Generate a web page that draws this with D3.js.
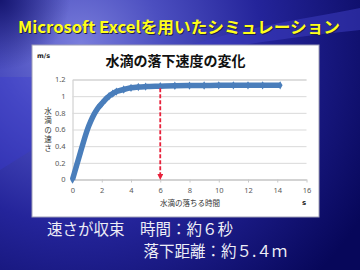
<!DOCTYPE html>
<html>
<head>
<meta charset="utf-8">
<script src="https://cdn.jsdelivr.net/npm/d3@7"></script>
<style>
  html, body { margin: 0; padding: 0; background: #0a0a5a; }
  svg { display: block; }
</style>
</head>
<body>
<div id="chart"></div>
<script>
// Data
var timeS = [0, 0.25, 0.5, 0.75, 1, 1.25, 1.5, 1.75, 2, 2.25, 2.5, 2.75, 3, 3.5, 4, 4.5, 5, 6, 7, 8, 9, 10, 11, 12, 13, 14.2];
var speedMs = [0, 0.15, 0.3, 0.45, 0.59, 0.7, 0.79, 0.86, 0.91, 0.96, 1.0, 1.03, 1.055, 1.08, 1.10, 1.11, 1.115, 1.12, 1.125, 1.127, 1.128, 1.13, 1.13, 1.13, 1.13, 1.13];
var xTicks = [0, 2, 4, 6, 8, 10, 12, 14, 16];
var yTicks = [0, 0.2, 0.4, 0.6, 0.8, 1, 1.2];
var markTime = 6;

var slideTitle = "Microsoft Excelを用いたシミュレーション";
var chartTitle = "水滴の落下速度の変化";
var yTitle = "水滴の速さ";
var xTitle = "水滴の落ちる時間";
var yUnit = "m/s";
var xUnit = "s";
var noteLine1 = "速さが収束　時間：約６秒";
var noteLine2 = "落下距離：約５.４ｍ";

var W = 360, H = 270;
var jp = "'Noto Sans CJK JP', 'Noto Sans', sans-serif";

var svg = d3.select("#chart").append("svg")
    .attr("width", W)
    .attr("height", H);

// background
var defs = svg.append("defs");
var bg = defs.append("radialGradient")
    .attr("id", "bg")
    .attr("gradientUnits", "userSpaceOnUse")
    .attr("cx", 80).attr("cy", 45).attr("r", 330);
bg.append("stop").attr("offset", 0).attr("stop-color", "#7a7edc");
bg.append("stop").attr("offset", 0.25).attr("stop-color", "#4c4fc0");
bg.append("stop").attr("offset", 0.55).attr("stop-color", "#24249a");
bg.append("stop").attr("offset", 1).attr("stop-color", "#07075a");

var corner = defs.append("radialGradient")
    .attr("id", "corner")
    .attr("gradientUnits", "userSpaceOnUse")
    .attr("cx", 0).attr("cy", 0).attr("r", 70);
corner.append("stop").attr("offset", 0).attr("stop-color", "#101068").attr("stop-opacity", 0.9);
corner.append("stop").attr("offset", 1).attr("stop-color", "#101068").attr("stop-opacity", 0);

svg.append("rect").attr("width", W).attr("height", H).attr("fill", "url(#bg)");
svg.append("rect").attr("width", W).attr("height", H).attr("fill", "url(#corner)");

// swoosh at the top right
svg.append("path")
    .attr("d", "M150,60 C220,30 300,20 360,8 L360,30 C300,36 230,46 150,60 Z")
    .attr("fill", "#3c3cc0")
    .attr("opacity", 0.55);
svg.append("path")
    .attr("d", "M0,77 L32,77 L32,150 L0,170 Z")
    .attr("fill", "#3a3ad0")
    .attr("opacity", 0.35);

// slide title
svg.append("text")
    .attr("x", 18).attr("y", 32.5)
    .attr("textLength", 322)
    .attr("lengthAdjust", "spacingAndGlyphs")
    .style("font-family", jp)
    .style("font-size", "16px")
    .style("font-weight", "bold")
    .attr("fill", "#20204a")
    .attr("transform", "translate(1,1)")
    .text(slideTitle);
svg.append("text")
    .attr("x", 18).attr("y", 32.5)
    .attr("textLength", 322)
    .attr("lengthAdjust", "spacingAndGlyphs")
    .style("font-family", jp)
    .style("font-size", "16px")
    .style("font-weight", "bold")
    .attr("fill", "#ffff1a")
    .text(slideTitle);

// chart panel
svg.append("rect")
    .attr("x", 32).attr("y", 45)
    .attr("width", 287).attr("height", 172)
    .attr("fill", "#ffffff")
    .attr("stroke", "#a0a0b8")
    .attr("stroke-width", 1);

var x = d3.scaleLinear().domain([0, 16]).range([72.5, 306.5]);
var y = d3.scaleLinear().domain([0, 1.2]).range([179.5, 79.5]);

// y grid and labels
var yAxis = svg.append("g")
    .attr("transform", "translate(" + x(0) + ",0)")
    .call(d3.axisLeft(y)
        .tickValues(yTicks)
        .tickSize(-(x(16) - x(0)))
        .tickPadding(7)
        .tickFormat(function(d) { return String(+d.toFixed(1)); }));
yAxis.select(".domain").attr("stroke", "#c8c8c8");
yAxis.selectAll(".tick line").attr("stroke", "#d9d9d9");
yAxis.selectAll(".tick text")
    .style("font-family", "'Noto Sans', sans-serif")
    .style("font-size", "7.5px")
    .attr("fill", "#595959");

// x axis
var xAxis = svg.append("g")
    .attr("transform", "translate(0," + y(0) + ")")
    .call(d3.axisBottom(x)
        .tickValues(xTicks)
        .tickSize(3)
        .tickSizeOuter(0)
        .tickPadding(5));
xAxis.select(".domain").attr("stroke", "#c8c8c8");
xAxis.selectAll(".tick line").attr("stroke", "#c8c8c8");
xAxis.selectAll(".tick text")
    .style("font-family", "'Noto Sans', sans-serif")
    .style("font-size", "7.5px")
    .attr("fill", "#595959");

// series
var pts = timeS.map(function(t, i) { return [t, speedMs[i]]; });
var line = d3.line()
    .x(function(d) { return x(d[0]); })
    .y(function(d) { return y(d[1]); })
    .curve(d3.curveMonotoneX);
svg.append("path")
    .datum(pts)
    .attr("d", line)
    .attr("fill", "none")
    .attr("stroke", "#4a7ebb")
    .attr("stroke-width", 5.5);
svg.append("g").selectAll("path")
    .data(pts)
    .enter().append("path")
    .attr("transform", function(d) { return "translate(" + x(d[0]) + "," + y(d[1]) + ")"; })
    .attr("d", d3.symbol().type(d3.symbolDiamond).size(20))
    .attr("fill", "#4a7ebb");

// red dashed arrow at t = 6
var markSpeed = speedMs[timeS.indexOf(markTime)];
defs.append("marker")
    .attr("id", "arrow")
    .attr("viewBox", "0 0 10 10")
    .attr("refX", 5).attr("refY", 5)
    .attr("markerWidth", 3.2).attr("markerHeight", 3.2)
    .attr("orient", "auto")
    .append("path")
    .attr("d", "M0,0 L10,5 L0,10 Z")
    .attr("fill", "#e8203a");
svg.append("line")
    .attr("x1", x(markTime)).attr("x2", x(markTime))
    .attr("y1", y(markSpeed) + 2).attr("y2", y(0.03))
    .attr("stroke", "#e8203a")
    .attr("stroke-width", 1.8)
    .attr("stroke-dasharray", "4,2")
    .attr("marker-end", "url(#arrow)");

// chart texts
svg.append("text")
    .attr("x", 175.5).attr("y", 66)
    .attr("text-anchor", "middle")
    .style("font-family", jp)
    .style("font-size", "14px")
    .style("font-weight", "bold")
    .attr("fill", "#111111")
    .text(chartTitle);

svg.append("text")
    .attr("x", 37).attr("y", 58)
    .style("font-family", "'DejaVu Sans', sans-serif")
    .style("font-size", "6.5px")
    .style("font-weight", "bold")
    .attr("fill", "#222222")
    .text(yUnit);

svg.append("text")
    .attr("x", 304).attr("y", 205)
    .attr("text-anchor", "middle")
    .style("font-family", "'DejaVu Sans', sans-serif")
    .style("font-size", "7px")
    .style("font-weight", "bold")
    .attr("fill", "#222222")
    .text(xUnit);

// vertical y title, one text element
svg.append("text")
    .attr("x", 48).attr("y", 107.5)
    .style("writing-mode", "vertical-rl")
    .style("font-family", jp)
    .style("font-size", "7.5px")
    .style("letter-spacing", "1.8px")
    .attr("fill", "#333333")
    .text(yTitle);

svg.append("text")
    .attr("x", 190).attr("y", 206)
    .attr("text-anchor", "middle")
    .style("font-family", jp)
    .style("font-size", "7.5px")
    .attr("fill", "#333333")
    .text(xTitle);

// notes under the chart
svg.append("text")
    .attr("x", 47).attr("y", 234.8)
    .style("font-family", jp)
    .style("font-size", "15.5px")
    .attr("fill", "#eeeef6")
    .text(noteLine1);
svg.append("text")
    .attr("x", 143.5).attr("y", 257.4)
    .style("font-family", jp)
    .style("font-size", "15.5px")
    .attr("fill", "#eeeef6")
    .text(noteLine2);
</script>
</body>
</html>
